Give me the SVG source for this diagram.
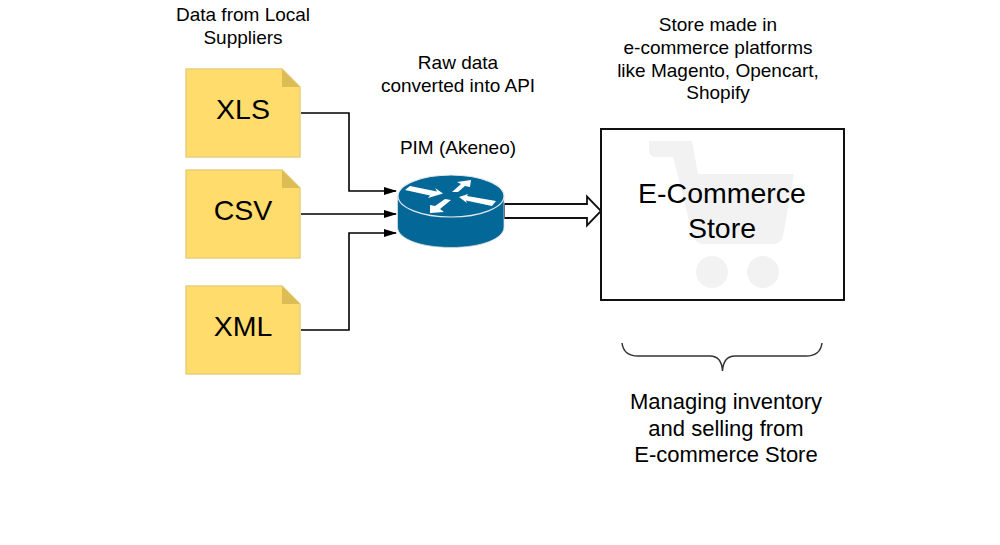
<svg xmlns="http://www.w3.org/2000/svg" width="1000" height="545" viewBox="0 0 1000 545">
<style>
text{font-family:"Liberation Sans",Arial,sans-serif;fill:#000;text-anchor:middle}
.s{font-size:19px}
.m{font-size:22px}
.l{font-size:28.500px}
.doc{fill:#ffdc6b;stroke:#e8cf7c;stroke-width:1.5}
.fold{fill:#dcbd55}
.wire{fill:none;stroke:#000;stroke-width:1.6}
.w{fill:#fff}
</style>
<defs>
<marker id="tip" markerWidth="14" markerHeight="10" refX="12" refY="4" orient="auto" markerUnits="userSpaceOnUse" viewBox="0 0 14 8"><path d="M0 0L13 4L0 8z" fill="#000"/></marker>
</defs>
<rect width="1000" height="545" fill="#fff"/>
<g id="labels">
<text class="s" x="243" y="21">Data from Local</text>
<text class="s" x="243" y="44">Suppliers</text>
<text class="s" x="458" y="69">Raw data</text>
<text class="s" x="458" y="92">converted into API</text>
<text class="s" x="458" y="154">PIM (Akeneo)</text>
<text class="s" x="718" y="31">Store made in</text>
<text class="s" x="718" y="54">e-commerce platforms</text>
<text class="s" x="718" y="77">like Magento, Opencart,</text>
<text class="s" x="718" y="99">Shopify</text>
<text class="m" x="726" y="409">Managing inventory</text>
<text class="m" x="726" y="436">and selling from</text>
<text class="m" x="726" y="462">E-commerce Store</text>
</g>
<g id="connectors">
<path class="wire" d="M301 113H349V191H396" marker-end="url(#tip)"/>
<path class="wire" d="M301 214H396" marker-end="url(#tip)"/>
<path class="wire" d="M301 330H349V233H396" marker-end="url(#tip)"/>
<path d="M504 204H587V196.500L601 211L587 225.500V218H504z" fill="#fff" stroke="#111" stroke-width="1.800"/>
</g>
<g id="xls">
<path class="doc" d="M186 69H282L300 87V157H186z"/><path class="fold" d="M282 69L300 87H282z"/>
<text class="l" x="243" y="119">XLS</text>
</g>
<g id="csv">
<path class="doc" d="M186 170H282L300 188V258H186z"/><path class="fold" d="M282 170L300 188H282z"/>
<text class="l" x="243" y="220">CSV</text>
</g>
<g id="xml">
<path class="doc" d="M186 286H282L300 304V374H186z"/><path class="fold" d="M282 286L300 304H282z"/>
<text class="l" x="243" y="336">XML</text>
</g>
<g id="pim">
<path d="M397.500 196V227C397.500 239 421 247.500 451 247.500S504 239 504 227V196z" fill="#036897" stroke="#ddd" stroke-width=".8"/>
<ellipse cx="451" cy="196" rx="53" ry="21" fill="#036897" stroke="#e4e8ea" stroke-width="1.200"/>
<g class="w">
<path d="M410 186L437 191.500L435 188L443 193.500L428 198L430 195.500L405 190z"/>
<path d="M452 192L458 192L465 186L470 187L471 180L457 182L461 184z"/>
<path d="M459 197L468 194L467 196L496 201L492 206L466 200.500L467 203z"/>
<path d="M430 213L430 205L435 206L445 199L451 200L440 209L444 212z"/>
</g>
</g>
<g id="store">
<path d="M649 141H692L698 174H794L783 236Q781 244 773 244H704Q696 244 693 236L673 157H656Q649 157 649 150z" fill="#f2f2f2"/>
<circle cx="712" cy="272" r="16" fill="#f2f2f2"/>
<circle cx="763" cy="272" r="16" fill="#f2f2f2"/>
<rect x="601" y="129" width="243" height="171" fill="none" stroke="#111" stroke-width="2"/>
<text class="l" x="722" y="203">E-Commerce</text>
<text class="l" x="722" y="238">Store</text>
</g>
<g id="brace">
<path d="M622 343C623 351 628 356 638 356H710C718 356 722 362 722.500 371C723 362 727 356 735 356H806C816 356 821 351 822 343" fill="none" stroke="#333" stroke-width="1.500"/>
</g>
</svg>
